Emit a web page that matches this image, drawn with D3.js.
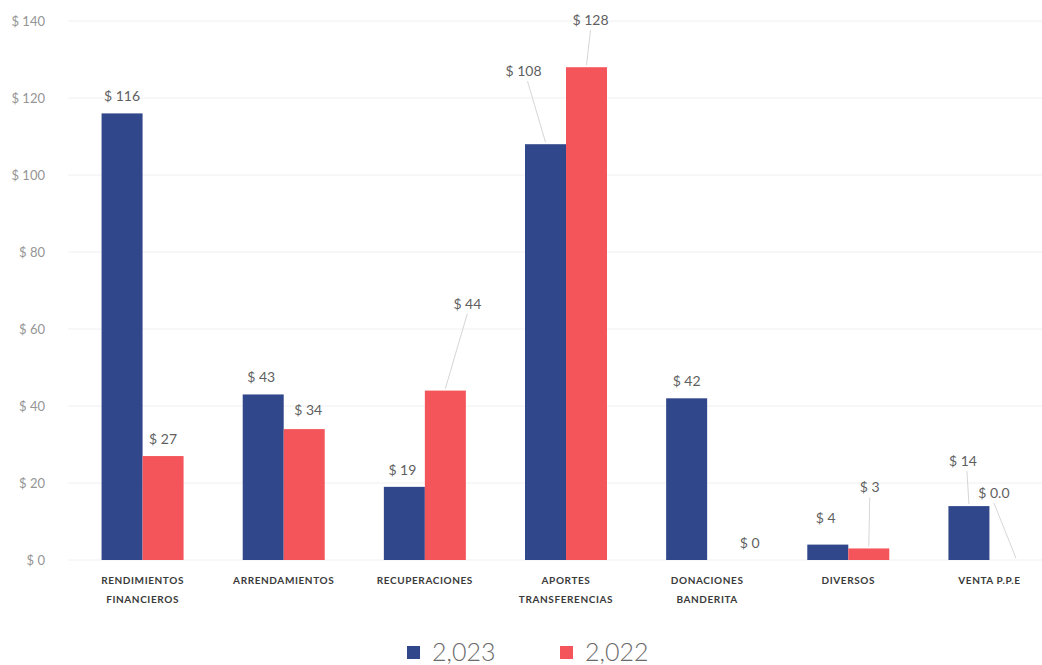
<!DOCTYPE html>
<html>
<head>
<meta charset="utf-8">
<script src="https://cdn.jsdelivr.net/npm/d3@7"></script>
<style>
  body { margin: 0; background: #fff; }
  svg { display: block; font-family: Lato, "Open Sans", sans-serif; }
</style>
</head>
<body>
<svg id="chart" width="1042" height="665"></svg>
<script>
const categories = [
    ["RENDIMIENTOS", "FINANCIEROS"],
    ["ARRENDAMIENTOS"],
    ["RECUPERACIONES"],
    ["APORTES", "TRANSFERENCIAS"],
    ["DONACIONES", "BANDERITA"],
    ["DIVERSOS"],
    ["VENTA P.P.E"]
];
const seriesNames = ["2,023", "2,022"];
const values2023 = [116, 43, 19, 108, 42, 4, 14];
const values2022 = [27, 34, 44, 128, 0, 3, 0];
const labels2023 = ["$ 116", "$ 43", "$ 19", "$ 108", "$ 42", "$ 4", "$ 14"];
const labels2022 = ["$ 27", "$ 34", "$ 44", "$ 128", "$ 0", "$ 3", "$ 0.0"];
const yTicks = [0, 20, 40, 60, 80, 100, 120, 140];

const colors = ["#31478b", "#f4555a"];

// label nudges (dx, dy from default spot above bar) and whether a leader line is drawn
const nudge = {
    "0-0": [0, 0], "1-0": [0, 0],
    "0-1": [-2, 0], "1-1": [4, -2],
    "0-2": [-2, 0], "1-2": [22, -70, true],
    "0-3": [-22, -56, true], "1-3": [4, -30, true],
    "0-4": [0, 0], "1-4": [22, 0],
    "0-5": [-2, -10], "1-5": [1, -44, true],
    "0-6": [-6, -28, true], "1-6": [-16, -50, true]
};

const svg = d3.select("#chart");
const margin = { left: 72, top: 21, bottom: 105 };
const plotRight = 1060;
const height = 665;

const x = d3.scaleBand()
    .domain(d3.range(categories.length))
    .range([margin.left, plotRight]);

const xInner = d3.scaleBand()
    .domain([0, 1])
    .range([0, 82])
    .paddingInner(0);

const y = d3.scaleLinear()
    .domain([0, 140])
    .range([height - margin.bottom, margin.top]);

// grid
svg.append("g")
    .selectAll("line")
    .data(yTicks)
    .join("line")
    .attr("x1", 68).attr("x2", 1042)
    .attr("y1", d => y(d)).attr("y2", d => y(d))
    .attr("stroke", "#f0f0f0")
    .attr("stroke-width", 1);

// y axis labels
svg.append("g")
    .selectAll("text")
    .data(yTicks)
    .join("text")
    .attr("x", 45)
    .attr("y", d => y(d))
    .attr("dy", "0.35em")
    .attr("text-anchor", "end")
    .attr("font-size", "13px")
    .attr("fill", "#959595")
    .text(d => "$ " + d);

const bars = [];
[values2023, values2022].forEach((vals, s) => {
    vals.forEach((v, i) => {
        bars.push({ s: s, i: i, v: v, label: (s === 0 ? labels2023 : labels2022)[i] });
    });
});

const barX = d => x(d.i) + x.bandwidth() / 2 - 41 + xInner(d.s);

svg.append("g")
    .selectAll("rect")
    .data(bars)
    .join("rect")
    .attr("x", barX)
    .attr("y", d => y(d.v))
    .attr("width", xInner.bandwidth())
    .attr("height", d => y(0) - y(d.v))
    .attr("fill", d => colors[d.s]);

// value labels
const lab = svg.append("g");
bars.forEach(d => {
    const n = nudge[d.s + "-" + d.i] || [0, 0];
    const cx = barX(d) + xInner.bandwidth() / 2;
    const top = y(d.v);
    const lx = cx + n[0];
    const ly = top - 12 + n[1];
    if (n[2]) {
        lab.append("line")
            .attr("x1", lx + (d.s === 0 ? 4 : 0))
            .attr("y1", ly + 5)
            .attr("x2", cx + (d.i === 6 && d.s === 1 ? 6 : 0))
            .attr("y2", top - 2)
            .attr("stroke", "#d6d6d6")
            .attr("stroke-width", 1);
    }
    lab.append("text")
        .attr("x", lx)
        .attr("y", ly)
        .attr("text-anchor", "middle")
        .attr("font-size", "14px")
        .attr("fill", "#5f5f5f")
        .text(d.label);
});

// x labels
const xl = svg.append("g");
categories.forEach((lines, i) => {
    const t = xl.append("text")
        .attr("x", x(i) + x.bandwidth() / 2)
        .attr("y", 584)
        .attr("text-anchor", "middle")
        .attr("font-size", "10px")
        .attr("font-weight", "bold")
        .attr("letter-spacing", "0.6px")
        .attr("fill", "#3a3a3a");
    lines.forEach((ln, k) => {
        t.append("tspan")
            .attr("x", x(i) + x.bandwidth() / 2)
            .attr("dy", k === 0 ? 0 : 19)
            .text(ln);
    });
});

// legend
const legend = svg.append("g").attr("transform", "translate(407,652)");
let off = 0;
seriesNames.forEach((name, s) => {
    const g = legend.append("g").attr("transform", `translate(${off},0)`);
    g.append("rect")
        .attr("x", 0).attr("y", -6)
        .attr("width", 13).attr("height", 13)
        .attr("fill", colors[s]);
    g.append("text")
        .attr("x", 25).attr("y", 0)
        .attr("dy", "0.35em")
        .attr("font-size", "25px")
        .attr("font-weight", 300)
        .attr("fill", "#6a6a6a")
        .text(name);
    off += 153;
});
</script>
</body>
</html>
